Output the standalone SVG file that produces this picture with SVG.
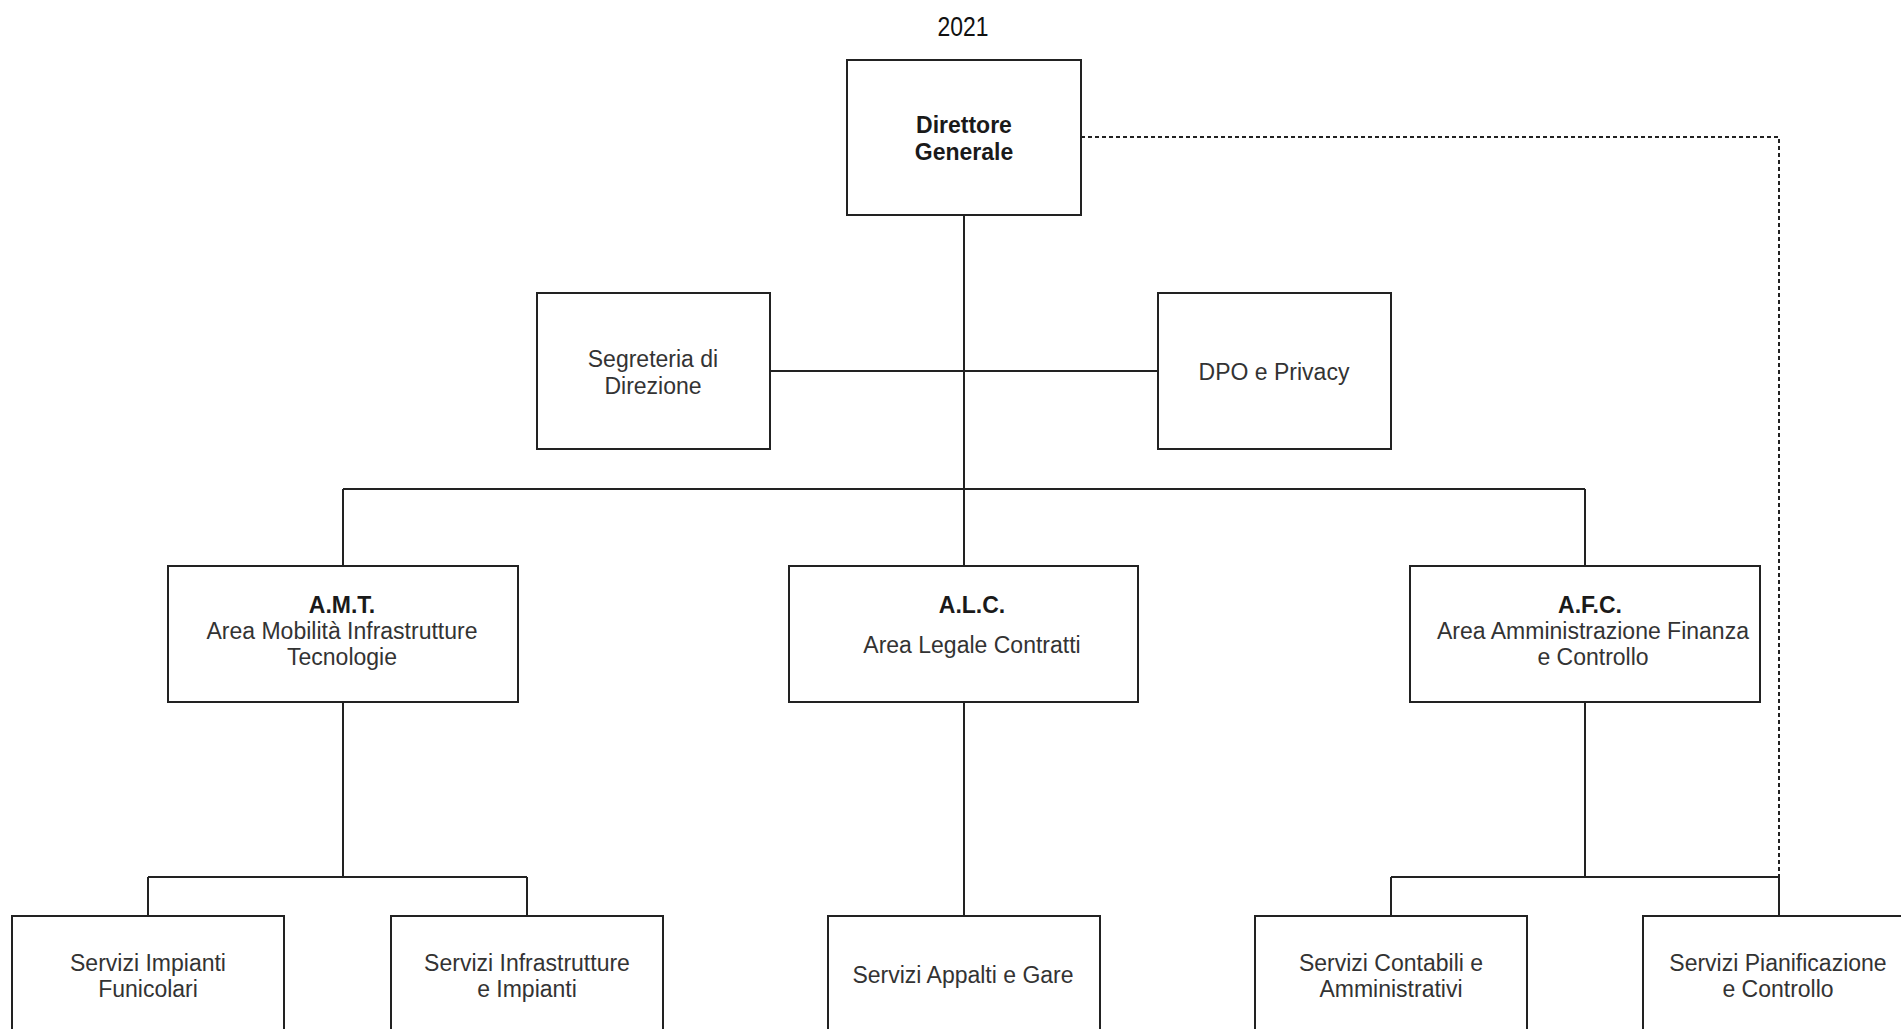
<svg xmlns="http://www.w3.org/2000/svg" width="1901" height="1029" viewBox="0 0 1901 1029">
<style>
.box{fill:#fff;stroke:#222;stroke-width:2}
.ln{fill:none;stroke:#222;stroke-width:2}
.dash{fill:none;stroke:#222;stroke-width:2;stroke-dasharray:4 3}
text{font-family:"Liberation Sans",Arial,sans-serif;font-size:23px;text-anchor:middle;fill:#333}
.b{font-weight:bold;fill:#1a1a1a}
</style>
<rect width="1901" height="1029" fill="#fff"/>
<text x="963" y="36" font-size="28" textLength="51" lengthAdjust="spacingAndGlyphs" style="font-size:28px;fill:#111">2021</text>
<g id="connectors">
<path class="ln" d="M964 215V489"/>
<path class="ln" d="M770 371H1158"/>
<path class="ln" d="M343 489H1585M343 489V566M964 489V566M1585 489V566"/>
<path class="ln" d="M343 702V877M148 877H527M148 877V916M527 877V916"/>
<path class="ln" d="M964 702V916"/>
<path class="ln" d="M1585 702V877M1391 877H1779M1391 877V916M1779 877V916"/>
<path class="dash" d="M1081 137H1779V877"/>
</g>
<g id="dg"><rect class="box" x="847" y="60" width="234" height="155"/><text class="b" x="964" y="133">Direttore</text><text class="b" x="964" y="160">Generale</text></g>
<g id="seg"><rect class="box" x="537" y="293" width="233" height="156"/><text x="653" y="367">Segreteria di</text><text x="653" y="394">Direzione</text></g>
<g id="dpo"><rect class="box" x="1158" y="293" width="233" height="156"/><text x="1274" y="380">DPO e Privacy</text></g>
<g id="amt"><rect class="box" x="168" y="566" width="350" height="136"/><text class="b" x="342" y="613">A.M.T.</text><text x="342" y="639">Area Mobilità Infrastrutture</text><text x="342" y="665">Tecnologie</text></g>
<g id="alc"><rect class="box" x="789" y="566" width="349" height="136"/><text class="b" x="972" y="613">A.L.C.</text><text x="972" y="653">Area Legale Contratti</text></g>
<g id="afc"><rect class="box" x="1410" y="566" width="350" height="136"/><text class="b" x="1590" y="613">A.F.C.</text><text x="1593" y="639">Area Amministrazione Finanza</text><text x="1593" y="665">e Controllo</text></g>
<g id="sif"><rect class="box" x="12" y="916" width="272" height="130"/><text x="148" y="971">Servizi Impianti</text><text x="148" y="997">Funicolari</text></g>
<g id="sii"><rect class="box" x="391" y="916" width="272" height="130"/><text x="527" y="971">Servizi Infrastrutture</text><text x="527" y="997">e Impianti</text></g>
<g id="sag"><rect class="box" x="828" y="916" width="272" height="130"/><text x="963" y="983">Servizi Appalti e Gare</text></g>
<g id="sca"><rect class="box" x="1255" y="916" width="272" height="130"/><text x="1391" y="971">Servizi Contabili e</text><text x="1391" y="997">Amministrativi</text></g>
<g id="spc"><rect class="box" x="1643" y="916" width="280" height="130"/><text x="1778" y="971">Servizi Pianificazione</text><text x="1778" y="997">e Controllo</text></g>
</svg>
